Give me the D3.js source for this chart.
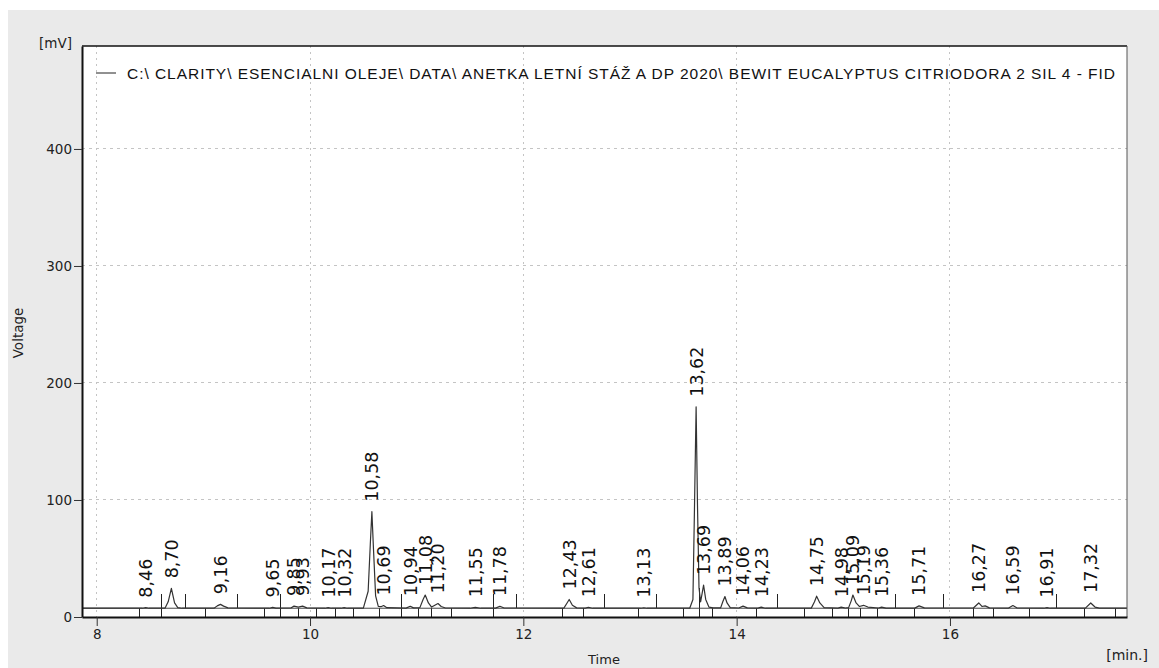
<!DOCTYPE html>
<html>
<head>
<meta charset="utf-8">
<script src="https://cdn.jsdelivr.net/npm/d3@7/dist/d3.min.js"></script>
<style>
  html, body { margin: 0; padding: 0; background: #ffffff; }
  svg { display: block; }
</style>
</head>
<body>
<svg id="chart" width="1159" height="668"></svg>
<script>
// Retention times of the integrated peaks [min] and their apex signal [mV]
const peakTimes = [8.46, 8.70, 9.16, 9.65, 9.85, 9.93, 10.17, 10.32, 10.58, 10.69,
  10.94, 11.08, 11.20, 11.55, 11.78, 12.43, 12.61, 13.13, 13.62, 13.69,
  13.89, 14.06, 14.23, 14.75, 14.98, 15.09, 15.19, 15.36, 15.71, 16.27,
  16.59, 16.91, 17.32];
const peakApex = [8.0, 24.5, 10.8, 8.2, 9.3, 9.3, 8.0, 8.0, 90, 9.8,
  9.2, 18.8, 11.5, 8.3, 9.2, 15.0, 8.3, 7.9, 179.7, 27.3,
  17.5, 9.3, 8.4, 17.8, 8.4, 18.8, 10.0, 8.5, 9.5, 12.0,
  9.8, 8.0, 12.0];

// Detector trace: [time min, signal mV]
const trace = [
  [7.862, 7.5], [8.43, 7.5], [8.46, 8.0], [8.49, 7.5],
  [8.64, 7.5], [8.67, 13], [8.70, 24.5], [8.73, 12], [8.76, 8], [8.80, 7.5],
  [9.10, 7.5], [9.13, 9.5], [9.16, 10.8], [9.19, 9.3], [9.23, 7.8],
  [9.62, 7.5], [9.65, 8.2], [9.68, 7.6],
  [9.82, 7.7], [9.85, 9.3], [9.89, 8.4], [9.93, 9.3], [9.97, 7.8],
  [10.14, 7.5], [10.17, 8.0], [10.20, 7.5],
  [10.29, 7.5], [10.32, 8.0], [10.35, 7.5],
  [10.50, 7.6], [10.545, 22], [10.565, 62], [10.58, 90], [10.595, 58], [10.615, 18],
  [10.64, 9], [10.665, 8.8], [10.69, 9.8], [10.72, 8],
  [10.90, 7.6], [10.94, 9.2], [10.97, 7.8],
  [11.03, 8], [11.06, 15], [11.08, 18.8], [11.11, 12], [11.14, 8.5], [11.17, 10], [11.20, 11.5], [11.23, 9], [11.27, 7.7],
  [11.50, 7.5], [11.55, 8.3], [11.60, 7.5],
  [11.74, 7.6], [11.78, 9.2], [11.82, 7.7],
  [12.38, 7.6], [12.41, 12], [12.43, 15], [12.46, 10], [12.50, 7.8],
  [12.58, 7.6], [12.61, 8.3], [12.65, 7.5],
  [13.10, 7.5], [13.13, 7.9], [13.16, 7.5],
  [13.56, 7.5], [13.59, 15], [13.605, 95], [13.62, 179.7], [13.633, 95], [13.647, 25],
  [13.662, 13], [13.676, 20], [13.69, 27.3], [13.71, 15], [13.74, 8.5], [13.78, 7.8],
  [13.85, 7.8], [13.87, 13], [13.89, 17.5], [13.91, 12], [13.94, 8],
  [14.02, 7.7], [14.06, 9.3], [14.10, 7.8],
  [14.20, 7.6], [14.23, 8.4], [14.27, 7.5],
  [14.70, 7.6], [14.73, 13], [14.75, 17.8], [14.78, 12], [14.82, 8],
  [14.95, 7.6], [14.98, 8.4], [15.02, 7.7],
  [15.05, 8], [15.075, 14], [15.09, 18.8], [15.12, 12], [15.15, 9], [15.19, 10], [15.23, 8.5],
  [15.33, 7.7], [15.36, 8.5], [15.40, 7.6],
  [15.67, 7.6], [15.71, 9.5], [15.76, 7.8],
  [16.22, 7.7], [16.27, 12], [16.30, 9], [16.33, 9.5], [16.37, 7.8],
  [16.55, 7.6], [16.59, 9.8], [16.63, 7.7],
  [16.88, 7.5], [16.91, 8], [16.94, 7.5],
  [17.27, 7.6], [17.32, 12], [17.36, 8.5], [17.40, 7.6],
  [17.66, 7.5]
];

// Integration marks: peak boundaries under the baseline, event marks above it
const boundaryTimes = [8.40, 8.61, 9.02, 9.575, 9.72, 9.89, 10.06, 10.24, 10.41, 10.65,
  10.86, 11.015, 11.14, 11.33, 11.72, 12.37, 12.56, 13.08, 13.50, 13.775,
  14.19, 14.64, 14.90, 15.05, 15.16, 15.32, 15.67, 16.22, 16.405, 16.75,
  17.265, 17.556];
const eventTimes = [8.61, 8.83, 9.32, 9.72, 10.86, 11.72, 11.94, 12.765, 13.25, 14.38,
  15.49, 15.94, 17.0];
const dropLineTimes = [13.656];

const xTicks = [8, 10, 12, 14, 16];
const yTicks = [0, 100, 200, 300, 400];
const legendText = "C:\\ CLARITY\\ ESENCIALNI OLEJE\\ DATA\\ ANETKA LETNÍ STÁŽ A DP 2020\\ BEWIT EUCALYPTUS CITRIODORA 2 SIL 4 - FID";

const baseLevel = 7.5;
const eventTop = 20;
const dropTop = 25;

const svg = d3.select("#chart");
const W = 1159, H = 668;
const plot = { left: 82, right: 1127, top: 46, bottom: 617 };
const uiFont = "'DejaVu Sans', Verdana, sans-serif";

const x = d3.scaleLinear().domain([7.862, 17.66]).range([plot.left, plot.right]);
const y = d3.scaleLinear().domain([0, 488]).range([plot.bottom, plot.top]);

// window background
svg.append("rect").attr("x", 8).attr("y", 10).attr("width", W - 8).attr("height", H - 10)
  .attr("fill", "#eaeaea");
svg.append("rect").attr("x", plot.left).attr("y", plot.top)
  .attr("width", plot.right - plot.left).attr("height", plot.bottom - plot.top)
  .attr("fill", "#ffffff");

const clip = svg.append("defs").append("clipPath").attr("id", "plotclip");
clip.append("rect").attr("x", plot.left).attr("y", plot.top)
  .attr("width", plot.right - plot.left).attr("height", plot.bottom - plot.top);

// grid
const grid = svg.append("g");
grid.selectAll("line.v").data(xTicks).join("line")
  .attr("x1", d => x(d)).attr("x2", d => x(d))
  .attr("y1", plot.top).attr("y2", plot.bottom)
  .attr("stroke", "#c4c4c4").attr("stroke-width", 1).attr("stroke-dasharray", "2,4")
  .attr("shape-rendering", "crispEdges");
grid.selectAll("line.h").data(yTicks.filter(d => d > 0)).join("line")
  .attr("x1", plot.left).attr("x2", plot.right)
  .attr("y1", d => y(d)).attr("y2", d => y(d))
  .attr("stroke", "#c4c4c4").attr("stroke-width", 1).attr("stroke-dasharray", "3,4")
  .attr("shape-rendering", "crispEdges");

const g = svg.append("g").attr("clip-path", "url(#plotclip)");

// integration marks
g.selectAll("line.bnd").data(boundaryTimes).join("line")
  .attr("x1", d => x(d)).attr("x2", d => x(d))
  .attr("y1", y(0)).attr("y2", y(baseLevel))
  .attr("stroke", "#222").attr("stroke-width", 1).attr("shape-rendering", "crispEdges");
g.selectAll("line.evt").data(eventTimes).join("line")
  .attr("x1", d => x(d)).attr("x2", d => x(d))
  .attr("y1", y(baseLevel)).attr("y2", y(eventTop))
  .attr("stroke", "#222").attr("stroke-width", 1).attr("shape-rendering", "crispEdges");
g.selectAll("line.drop").data(dropLineTimes).join("line")
  .attr("x1", d => x(d)).attr("x2", d => x(d))
  .attr("y1", y(0)).attr("y2", y(dropTop))
  .attr("stroke", "#222").attr("stroke-width", 1).attr("shape-rendering", "crispEdges");

// baseline
g.append("line").attr("x1", plot.left).attr("x2", plot.right)
  .attr("y1", y(baseLevel)).attr("y2", y(baseLevel))
  .attr("stroke", "#444").attr("stroke-width", 1);

// chromatogram trace
const line = d3.line().x(d => x(d[0])).y(d => y(d[1]));
g.append("path").datum(trace).attr("d", line)
  .attr("fill", "none").attr("stroke", "#333").attr("stroke-width", 1.2)
  .attr("stroke-linejoin", "round");

// peak labels
const fmt = d => d.toFixed(2).replace(".", ",");
svg.append("g").selectAll("text").data(peakTimes).join("text")
  .attr("transform", (d, i) => `translate(${x(d) + 6.4},${y(peakApex[i]) - 10}) rotate(-90)`)
  .attr("font-family", uiFont).attr("font-size", 17.5).attr("fill", "#111")
  .text(d => fmt(d));

// axes frame
svg.append("line").attr("x1", plot.left).attr("x2", plot.right).attr("y1", plot.top).attr("y2", plot.top)
  .attr("stroke", "#111").attr("stroke-width", 1.5);
svg.append("line").attr("x1", plot.right).attr("x2", plot.right).attr("y1", plot.top).attr("y2", plot.bottom)
  .attr("stroke", "#555").attr("stroke-width", 1);

const xAxis = svg.append("g").attr("transform", `translate(0,${plot.bottom})`)
  .call(d3.axisBottom(x).tickValues(xTicks).tickFormat(d3.format("d")).tickSizeInner(9).tickSizeOuter(0).tickPadding(3));
const yAxis = svg.append("g").attr("transform", `translate(${plot.left},0)`)
  .call(d3.axisLeft(y).tickValues(yTicks).tickFormat(d3.format("d")).tickSizeInner(8).tickSizeOuter(0).tickPadding(2));
[xAxis, yAxis].forEach(a => {
  a.select(".domain").attr("stroke", "#111").attr("stroke-width", 2);
  a.selectAll(".tick line").attr("stroke", "#333");
  a.selectAll("text").attr("font-family", uiFont).attr("font-size", 13.5).attr("fill", "#222");
});

// axis titles
svg.append("text").attr("x", 72).attr("y", 48).attr("text-anchor", "end")
  .attr("font-family", uiFont).attr("font-size", 13.5).attr("fill", "#222").text("[mV]");
svg.append("text").attr("transform", "translate(22.5,333) rotate(-90)").attr("text-anchor", "middle")
  .attr("font-family", uiFont).attr("font-size", 13.5).attr("fill", "#222").text("Voltage");
svg.append("text").attr("x", 604).attr("y", 664).attr("text-anchor", "middle")
  .attr("font-family", uiFont).attr("font-size", 13).attr("fill", "#222").text("Time");
svg.append("text").attr("x", 1148).attr("y", 660).attr("text-anchor", "end")
  .attr("font-family", uiFont).attr("font-size", 14).attr("fill", "#222").text("[min.]");

// legend
svg.append("line").attr("x1", 96).attr("x2", 116).attr("y1", 73).attr("y2", 73)
  .attr("stroke", "#222").attr("stroke-width", 1);
svg.append("text").attr("x", 127).attr("y", 78.5)
  .attr("font-family", "'Liberation Sans', Arial, sans-serif").attr("font-size", 15.5).attr("fill", "#111")
  .attr("textLength", 988).attr("lengthAdjust", "spacing")
  .text(legendText);
</script>
</body>
</html>
